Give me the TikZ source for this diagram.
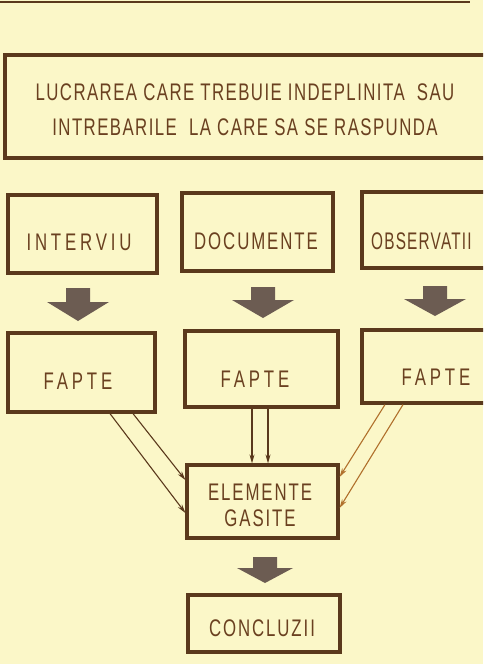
\documentclass[tikz,border=0pt]{standalone}
\usepackage{fontspec}
\setmainfont[FakeStretch=0.7,LetterSpace=8]{Liberation Sans}
\newfontfamily\topfont[FakeStretch=0.7,LetterSpace=6]{Liberation Sans}
\newfontfamily\widefont[FakeStretch=0.7,LetterSpace=16]{Liberation Sans}
\newfontfamily\narrowfont[FakeStretch=0.64,LetterSpace=5]{Liberation Sans}
\usetikzlibrary{arrows.meta,calc}
\definecolor{bg}{HTML}{FBF7C8}
\definecolor{ink}{HTML}{5A391C}
\definecolor{txt}{HTML}{6A4020}
\definecolor{blk}{HTML}{6C5C52}
\definecolor{orng}{HTML}{B0702C}
\newcommand\blockarrow[5]{% cx, top, headtop, tip, headhalf
  \fill[blk] ({#1-12},#2) -- ({#1+12},#2) -- ({#1+12},#3) -- ({#1+#5},#3) -- (#1,#4) -- ({#1-#5},#3) -- ({#1-12},#3) -- cycle;}
\begin{document}
\begin{tikzpicture}[x=1pt,y=-1pt,
  box/.style={draw=ink,line width=3.2pt,inner sep=0pt},
  lbl/.style={text=txt,font=\fontsize{24}{34}\selectfont,align=center,inner sep=0pt},
  arr/.style={line width=1.1pt,-{Stealth[length=9pt,width=5pt]}}]
\useasboundingbox (0,0) rectangle (483,664);
\fill[bg] (0,0) rectangle (483,664);
\clip (0,0) rectangle (483,664);
\draw[ink,line width=2.5pt] (0,2) -- (470,2);
% top box
\node[box,minimum width=495pt,minimum height=103pt] (task) at (252.5,106.5) {};
\node[lbl,font=\fontsize{24}{35}\topfont] (tasktxt) at (245,110) {LUCRAREA CARE TREBUIE INDEPLINITA\ \ SAU\\INTREBARILE\ \ LA CARE SA SE RASPUNDA};
% sources
\node[box,minimum width=149pt,minimum height=78pt] (src1) at (82.5,234) {};
\node[lbl,font=\fontsize{24}{34}\widefont] (src1txt) at (79,242) {INTERVIU};
\node[box,minimum width=151pt,minimum height=78pt,lbl] (src2) at (257.5,232) {};
\node[lbl] (src2txt) at (256,241) {DOCUMENTE};
\node[box,minimum width=143pt,minimum height=76pt,lbl] (src3) at (433.5,230) {};
\node[lbl,anchor=west,font=\fontsize{24}{34}\narrowfont] (src3txt) at (371,241) {OBSERVATII};
% block arrows
\blockarrow{78}{288}{302}{321}{31}
\blockarrow{263}{287}{300}{318}{31}
\blockarrow{435}{286}{299}{316}{31}
% facts
\node[box,minimum width=147pt,minimum height=79pt] (f1) at (81.5,372.5) {};
\node[lbl,font=\fontsize{24}{34}\widefont] (f1txt) at (78,381) {FAPTE};
\node[box,minimum width=153pt,minimum height=76pt] (f2) at (261.5,369) {};
\node[lbl,font=\fontsize{24}{34}\widefont] (f2txt) at (255,379) {FAPTE};
\node[box,minimum width=143pt,minimum height=73pt] (f3) at (433.5,366.5) {};
\node[lbl,font=\fontsize{24}{34}\widefont] (f3txt) at (436,377) {FAPTE};
% elements
\node[box,minimum width=151pt,minimum height=73pt] (el) at (262.5,501.5) {};
\node[lbl,font=\fontsize{24}{26}\selectfont] (eltxt) at (260,505) {ELEMENTE\\GASITE};
% connectors
\draw[arr,ink] ($(f1.south)+(28.5,0)$) -- ($(el.west)+(0,11.5)$);
\draw[arr,ink] ($(f1.south)+(51.5,0)$) -- ($(el.west)+(0,-21.5)$);
\draw[arr,ink] ($(f2.south)+(-9.5,0)$) -- ($(el.north)+(-10.5,0)$);
\draw[arr,ink] ($(f2.south)+(6.5,0)$) -- ($(el.north)+(5.5,0)$);
\draw[arr,orng] ($(f3.south)+(-48.5,0)$) -- ($(el.east)+(0,-24.5)$);
\draw[arr,orng] ($(f3.south)+(-30.5,0)$) -- ($(el.east)+(0,6.5)$);
\blockarrow{265}{557}{568}{583}{28}
\node[box,minimum width=152pt,minimum height=57pt] (conc) at (264,623.5) {};
\node[lbl] (conctxt) at (262,628) {CONCLUZII};
\end{tikzpicture}
\end{document}
